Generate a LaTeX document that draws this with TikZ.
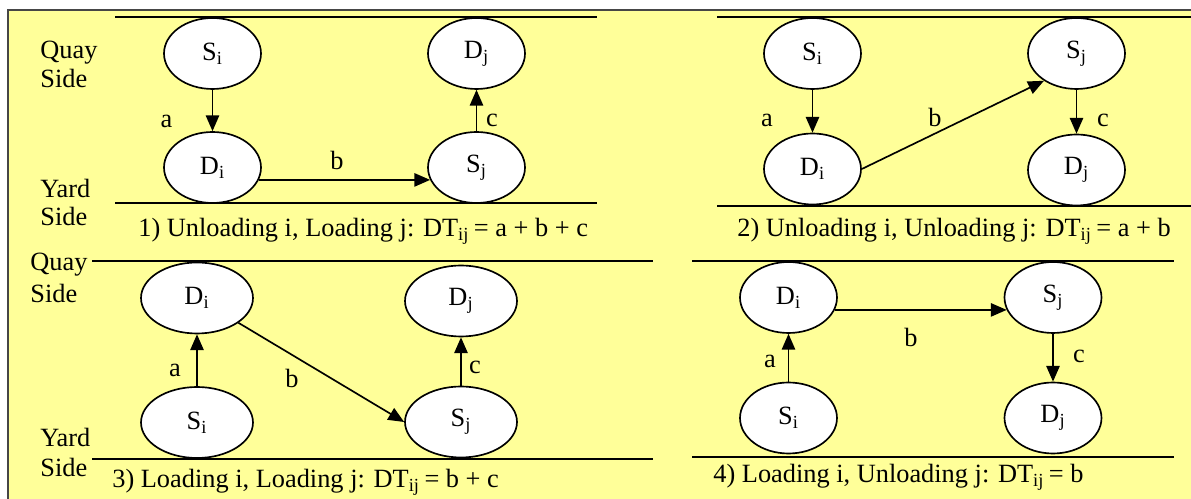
\documentclass[tikz,border=0pt]{standalone}
\usepackage{fontspec}
\setmainfont{Liberation Serif}
\usetikzlibrary{shapes.geometric,arrows.meta}
\definecolor{paleyellow}{RGB}{255,255,153}
\definecolor{framegray}{RGB}{70,70,70}

\begin{document}
\begin{tikzpicture}[x=0.02cm,y=-0.02cm,
		every node/.style={font=\fontsize{15}{18}\selectfont, inner sep=0pt},
		task/.style={ellipse, draw, fill=white, line width=0.95pt, minimum width=1.94cm, minimum height=1.42cm},
		wide task/.style={task, minimum width=2.24cm},
		move/.style={line width=0.95pt, -{Triangle[length=9pt,width=7.6pt]}},
		berth/.style={line width=1.1pt},
		lbl/.style={anchor=base},
		txt/.style={anchor=base west}]
		%Page and yellow panel
		\useasboundingbox (0,0) rectangle (1191,499);
		\clip (0,0) rectangle (1191,499);
		\fill[white] (0,0) rectangle (1191,499);
		\draw[fill=paleyellow, draw=framegray, line width=1.2pt] (8,10) rectangle (1230,540);
		%Quay and yard side texts
		\node[txt] (quay1) at (40,59) {Quay};
		\node[txt] (qside1) at (40,88) {Side};
		\node[txt] (yard1) at (40,198) {Yard};
		\node[txt] (yside1) at (40,226) {Side};
		\node[txt] (quay3) at (30,271) {Quay};
		\node[txt] (qside3) at (30,303) {Side};
		\node[txt] (yard3) at (40,447) {Yard};
		\node[txt] (yside3) at (40,477) {Side};
		%Case 1: unloading i, loading j
		\draw[berth] (115,17) -- (597,17);
		\draw[berth] (115,203) -- (597,203);
		\node[task] (si1) at (212.5,53.5) {S\textsubscript{i}};
		\node[task] (di1) at (212.5,167.5) {D\textsubscript{i}};
		\node[task] (dj1) at (476.5,53.5) {D\textsubscript{j}};
		\node[task] (sj1) at (476.5,167.5) {S\textsubscript{j}};
		\draw[move] (si1) -- (di1);
		\draw[move] (di1.-15) -- (sj1.195);
		\draw[move] (sj1) -- (dj1);
		\node[lbl] (a1) at (166.5,128) {a};
		\node[lbl] (b1) at (337,170) {b};
		\node[lbl] (c1) at (492,127) {c};
		\node[txt] (cap1) at (138,237) {1) Unloading i, Loading j: DT\textsubscript{ij }= a + b + c};
		%Case 2: unloading i, unloading j
		\draw[berth] (717,17) -- (1191,17);
		\draw[berth] (717,206) -- (1191,206);
		\node[task] (si2) at (812.5,53.5) {S\textsubscript{i}};
		\node[task] (di2) at (812.5,169) {D\textsubscript{i}};
		\node[task] (sj2) at (1076.5,53.5) {S\textsubscript{j}};
		\node[task] (dj2) at (1076.5,170) {D\textsubscript{j}};
		\draw[move] (si2) -- (di2);
		\draw[move] (di2.east) -- (sj2.220);
		\draw[move] (sj2) -- (dj2);
		\node[lbl] (a2) at (767,127) {a};
		\node[lbl] (b2) at (935,127) {b};
		\node[lbl] (c2) at (1103,127) {c};
		\node[txt] (cap2) at (737,237) {2) Unloading i, Unloading j: DT\textsubscript{ij }= a + b};
		%Case 3: loading i, loading j
		\draw[berth] (92,261) -- (653,261);
		\draw[berth] (92,459) -- (653,459);
		\node[wide task] (di3) at (197,298) {D\textsubscript{i}};
		\node[wide task] (dj3) at (461,301) {D\textsubscript{j}};
		\node[wide task] (si3) at (197,422.5) {S\textsubscript{i}};
		\node[wide task] (sj3) at (461,422) {S\textsubscript{j}};
		\draw[move] (si3) -- (di3);
		\draw[move] (di3) -- (sj3.west);
		\draw[move] (sj3) -- (dj3);
		\node[lbl] (a3) at (175,377) {a};
		\node[lbl] (b3) at (292,388) {b};
		\node[lbl] (c3) at (475,374) {c};
		\node[txt] (cap3) at (112,488) {3) Loading i, Loading j: DT\textsubscript{ij }= b + c};
		%Case 4: loading i, unloading j
		\draw[berth] (692,261) -- (1174,261);
		\draw[berth] (692,457) -- (1174,457);
		\node[task] (di4) at (788.5,297.5) {D\textsubscript{i}};
		\node[task] (sj4) at (1053,297.5) {S\textsubscript{j}};
		\node[task] (si4) at (788.5,418) {S\textsubscript{i}};
		\node[task] (dj4) at (1053,418) {D\textsubscript{j}};
		\draw[move] (si4) -- (di4);
		\draw[move] (di4.-15) -- (sj4.195);
		\draw[move] (sj4) -- (dj4);
		\node[lbl] (a4) at (770,368) {a};
		\node[lbl] (b4) at (911,347) {b};
		\node[lbl] (c4) at (1079,363) {c};
		\node[txt] (cap4) at (713,483) {4) Loading i, Unloading j: DT\textsubscript{ij }= b};
\end{tikzpicture}
\end{document}
